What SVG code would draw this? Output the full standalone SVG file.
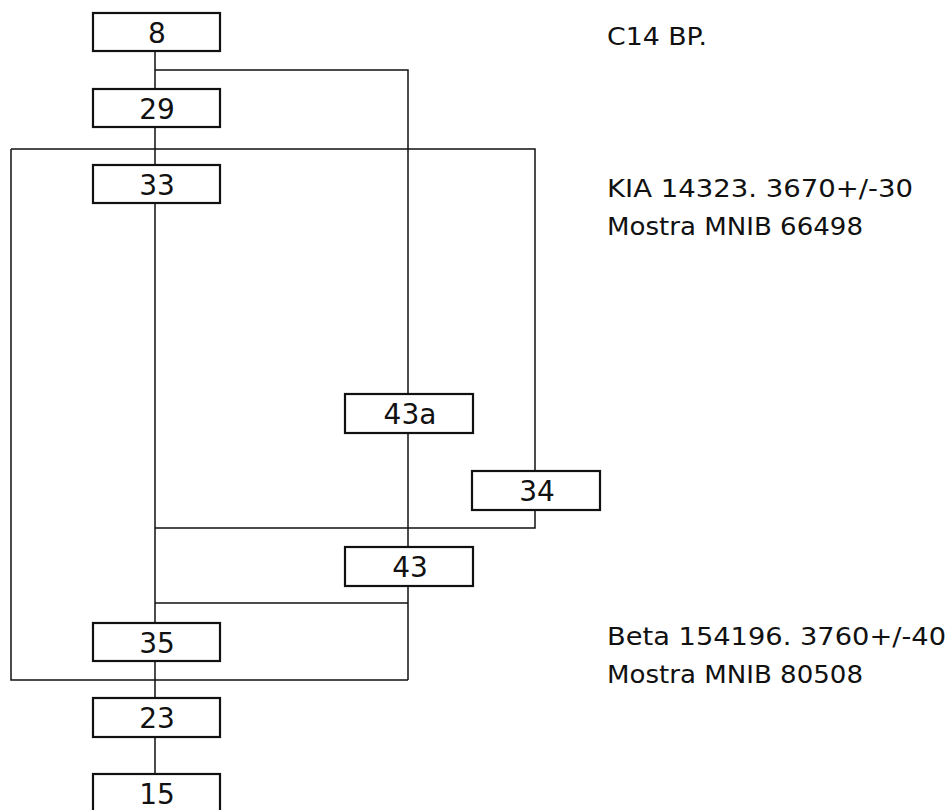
<svg xmlns="http://www.w3.org/2000/svg" width="952" height="810" viewBox="0 0 952 810">
<style>
.box{fill:#fff;stroke:#111;stroke-width:2.2}
.lbl{font-family:"DejaVu Sans","Liberation Sans",sans-serif;font-size:28px;fill:#111;text-anchor:middle}
.note{font-family:"DejaVu Sans","Liberation Sans",sans-serif;font-size:25px;fill:#111}
#connectors path{fill:none;stroke:#111;stroke-width:1.5}
</style>
<rect width="952" height="810" fill="#fff"/>
<g id="connectors">
<path d="M155 51V89M155 127V165M155 203V623M155 661V698M155 737V774"/>
<path d="M155 70H408V394M408 433V547M408 586V680"/>
<path d="M11 149H535V471M535 510V528H155"/>
<path d="M408 603H155"/>
<path d="M11 149V680H408"/>
</g>
<g id="n8"><rect class="box" x="93" y="13" width="127" height="38"/><text class="lbl" x="157" y="43">8</text></g>
<g id="n29"><rect class="box" x="93" y="89" width="127" height="38"/><text class="lbl" x="157" y="119">29</text></g>
<g id="n33"><rect class="box" x="93" y="165" width="127" height="38"/><text class="lbl" x="157" y="195">33</text></g>
<g id="n43a"><rect class="box" x="345" y="394" width="128" height="39"/><text class="lbl" x="410" y="424">43a</text></g>
<g id="n34"><rect class="box" x="472" y="471" width="128" height="39"/><text class="lbl" x="537" y="501">34</text></g>
<g id="n43"><rect class="box" x="345" y="547" width="128" height="39"/><text class="lbl" x="410" y="577">43</text></g>
<g id="n35"><rect class="box" x="93" y="623" width="127" height="38"/><text class="lbl" x="157" y="653">35</text></g>
<g id="n23"><rect class="box" x="93" y="698" width="127" height="39"/><text class="lbl" x="157" y="728">23</text></g>
<g id="n15"><rect class="box" x="93" y="774" width="127" height="39"/><text class="lbl" x="157" y="804">15</text></g>
<g id="notes">
<text class="note" x="607" y="45" textLength="100" lengthAdjust="spacingAndGlyphs">C14 BP.</text>
<text class="note" x="607" y="197" textLength="306" lengthAdjust="spacingAndGlyphs">KIA 14323. 3670+/-30</text>
<text class="note" x="607" y="235" textLength="256" lengthAdjust="spacingAndGlyphs">Mostra MNIB 66498</text>
<text class="note" x="607" y="645" textLength="339" lengthAdjust="spacingAndGlyphs">Beta 154196. 3760+/-40</text>
<text class="note" x="607" y="683" textLength="256" lengthAdjust="spacingAndGlyphs">Mostra MNIB 80508</text>
</g>
</svg>
